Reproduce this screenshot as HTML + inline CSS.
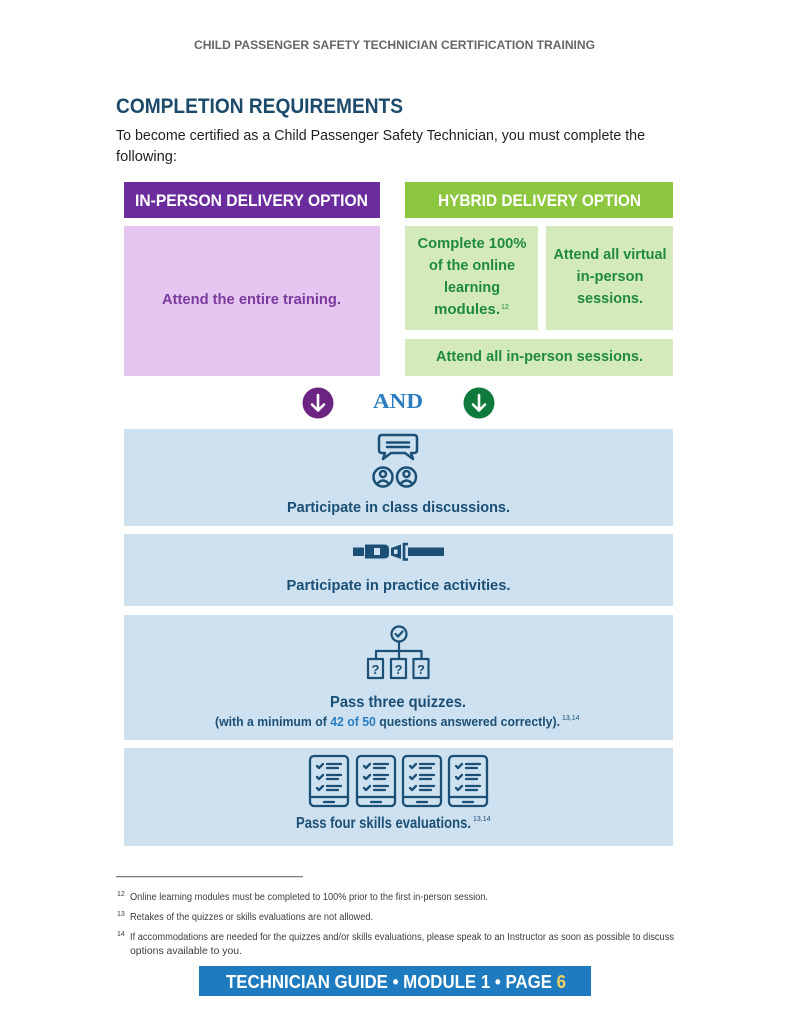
<!DOCTYPE html>
<html>
<head>
<meta charset="utf-8">
<style>
  html,body{margin:0;padding:0;background:#fff;}
  svg{display:block;}
</style>
</head>
<body>
<svg width="791" height="1024" viewBox="0 0 791 1024" xmlns="http://www.w3.org/2000/svg" font-family="'Liberation Sans', Arial, sans-serif">
  <rect width="791" height="1024" fill="#ffffff"/>

  <!-- Running header -->
  <text x="194" y="49" font-size="11.5" font-weight="bold" fill="#666666" textLength="401" lengthAdjust="spacingAndGlyphs">CHILD PASSENGER SAFETY TECHNICIAN CERTIFICATION TRAINING</text>

  <!-- Title -->
  <text x="116" y="113" font-size="21" font-weight="bold" fill="#1b4a6b" textLength="287" lengthAdjust="spacingAndGlyphs">COMPLETION REQUIREMENTS</text>
  <text x="116" y="140" font-size="14.5" fill="#231f20" textLength="529" lengthAdjust="spacingAndGlyphs">To become certified as a Child Passenger Safety Technician, you must complete the</text>
  <text x="116" y="161" font-size="14.5" fill="#231f20" textLength="61" lengthAdjust="spacingAndGlyphs">following:</text>

  <!-- Header boxes -->
  <rect x="124" y="182" width="256" height="36" fill="#6b2d9e"/>
  <text x="135" y="206" font-size="16.5" font-weight="bold" fill="#ffffff" textLength="233" lengthAdjust="spacingAndGlyphs">IN-PERSON DELIVERY OPTION</text>
  <rect x="405" y="182" width="268" height="36" fill="#8dc63f"/>
  <text x="438" y="206" font-size="16.5" font-weight="bold" fill="#ffffff" textLength="203" lengthAdjust="spacingAndGlyphs">HYBRID DELIVERY OPTION</text>

  <!-- In-person content -->
  <rect x="124" y="226" width="256" height="150" fill="#e5c6f0"/>
  <text x="162" y="304" font-size="15" font-weight="bold" fill="#7b3a9d" textLength="179" lengthAdjust="spacingAndGlyphs">Attend the entire training.</text>

  <!-- Hybrid content -->
  <rect x="405" y="226" width="133" height="104" fill="#d4eabd"/>
  <g font-size="14.5" font-weight="bold" fill="#1f8a3f" text-anchor="middle">
    <text x="472" y="248" textLength="109" lengthAdjust="spacingAndGlyphs">Complete 100%</text>
    <text x="472" y="270" textLength="86" lengthAdjust="spacingAndGlyphs">of the online</text>
    <text x="472" y="292" textLength="56" lengthAdjust="spacingAndGlyphs">learning</text>
    <text x="467" y="314" textLength="66" lengthAdjust="spacingAndGlyphs">modules.</text>
  </g>
  <text x="501" y="309" font-size="7" fill="#1f8a3f">12</text>

  <rect x="546" y="226" width="127" height="104" fill="#d4eabd"/>
  <g font-size="14.5" font-weight="bold" fill="#1f8a3f" text-anchor="middle">
    <text x="610" y="259" textLength="113" lengthAdjust="spacingAndGlyphs">Attend all virtual</text>
    <text x="610" y="281" textLength="67" lengthAdjust="spacingAndGlyphs">in-person</text>
    <text x="610" y="303" textLength="66" lengthAdjust="spacingAndGlyphs">sessions.</text>
  </g>

  <rect x="405" y="339" width="268" height="37" fill="#d4eabd"/>
  <text x="539.5" y="361" font-size="14.5" font-weight="bold" fill="#1f8a3f" text-anchor="middle" textLength="207" lengthAdjust="spacingAndGlyphs">Attend all in-person sessions.</text>

  <!-- AND row -->
  <circle cx="318" cy="403" r="15.5" fill="#6c2482"/>
  <path d="M318 395 V410 M312 404.5 L318 410.5 L324 404.5" stroke="#ffffff" stroke-width="2.6" fill="none" stroke-linecap="round" stroke-linejoin="round"/>
  <text x="373" y="408" font-family="'Liberation Serif', serif" font-size="21" font-weight="bold" fill="#2b7dc0" textLength="50" lengthAdjust="spacingAndGlyphs">AND</text>
  <circle cx="479" cy="403" r="15.5" fill="#0f7a3c"/>
  <path d="M479 395 V410 M473 404.5 L479 410.5 L485 404.5" stroke="#ffffff" stroke-width="2.6" fill="none" stroke-linecap="round" stroke-linejoin="round"/>

  <!-- Blue boxes -->
  <rect x="124" y="429" width="549" height="97" fill="#cde1f0"/>
  <rect x="124" y="534" width="549" height="72" fill="#cde1f0"/>
  <rect x="124" y="615" width="549" height="125" fill="#cde1f0"/>
  <rect x="124" y="748" width="549" height="98" fill="#cde1f0"/>

  <!-- Icon 1: discussion -->
  <g stroke="#1b4f75" stroke-width="2.5" fill="none" stroke-linejoin="round" stroke-linecap="round">
    <path d="M382 435 H414 Q417 435 417 438 V450 Q417 453 414 453 H411 L413 459 L405 453 H391 L383 459 L385 453 H382 Q379 453 379 450 V438 Q379 435 382 435 Z"/>
    <path d="M387 442.5 H409 M387 447 H409"/>
    <circle cx="383" cy="477" r="9.5"/>
    <circle cx="383" cy="474" r="3"/>
    <path d="M377 484 Q383 477 389 484"/>
    <circle cx="406.5" cy="477" r="9.5"/>
    <circle cx="406.5" cy="474" r="3"/>
    <path d="M400.5 484 Q406.5 477 412.5 484"/>
  </g>
  <text x="398.5" y="512" font-size="15" font-weight="bold" fill="#1b4f75" text-anchor="middle" textLength="223" lengthAdjust="spacingAndGlyphs">Participate in class discussions.</text>

  <!-- Icon 2: seatbelt -->
  <g fill="#1b4f75">
    <rect x="353" y="547.5" width="11" height="8.5"/>
    <path d="M365 544.5 H384 Q389 544.5 389 549 V554 Q389 558.5 384 558.5 H365 Z"/>
    <path d="M391 548 L401 544.5 V559 L391 555.5 Z"/>
    <rect x="408" y="547.5" width="36" height="8.5"/>
  </g>
  <rect x="374" y="548" width="6" height="7" fill="#cde1f0"/>
  <rect x="394" y="549.5" width="3.5" height="4.5" fill="#cde1f0"/>
  <path d="M408 544 H404 V559.5 H408" stroke="#1b4f75" stroke-width="2.6" fill="none"/>
  <text x="398.5" y="590" font-size="15" font-weight="bold" fill="#1b4f75" text-anchor="middle" textLength="224" lengthAdjust="spacingAndGlyphs">Participate in practice activities.</text>

  <!-- Icon 3: quizzes -->
  <g stroke="#1b4f75" stroke-width="2.2" fill="none" stroke-linejoin="round" stroke-linecap="round">
    <circle cx="399" cy="634" r="7.5"/>
    <path d="M395.5 634 L398 636.5 L402.5 631.5"/>
    <path d="M399 641.5 V651 M376 651 H421.5 M376 651 V659 M399 651 V659 M421.5 651 V659"/>
    <rect x="368" y="659" width="15" height="19"/>
    <rect x="391" y="659" width="15" height="19"/>
    <rect x="413.5" y="659" width="15" height="19"/>
  </g>
  <g font-size="13" font-weight="bold" fill="#1b4f75" text-anchor="middle">
    <text x="375.5" y="674">?</text>
    <text x="398.5" y="674">?</text>
    <text x="421" y="674">?</text>
  </g>
  <text x="398" y="707" font-size="16" font-weight="bold" fill="#1b4f75" text-anchor="middle" textLength="136" lengthAdjust="spacingAndGlyphs">Pass three quizzes.</text>
  <text x="215" y="726" font-size="13" font-weight="bold" fill="#1b4f75" textLength="345" lengthAdjust="spacingAndGlyphs">(with a minimum of <tspan fill="#2b7dc0">42 of 50</tspan> questions answered correctly).</text>
  <text x="562" y="720" font-size="7" fill="#1b4f75">13,14</text>

  <!-- Icon 4: tablets -->
  <g stroke="#1b4f75" stroke-width="2.3" fill="none" stroke-linecap="round" stroke-linejoin="round">
    <g>
      <rect x="310" y="756" width="38" height="50" rx="4"/>
      <path d="M310 797 H348 M324 802 H334"/>
      <path d="M317 766 L319 768 L323 764 M317 777 L319 779 L323 775 M317 788 L319 790 L323 786"/>
      <path d="M327 764 H341 M327 768 H338 M327 775 H341 M327 779 H338 M327 786 H341 M327 790 H338"/>
    </g>
    <g transform="translate(47 0)">
      <rect x="310" y="756" width="38" height="50" rx="4"/>
      <path d="M310 797 H348 M324 802 H334"/>
      <path d="M317 766 L319 768 L323 764 M317 777 L319 779 L323 775 M317 788 L319 790 L323 786"/>
      <path d="M327 764 H341 M327 768 H338 M327 775 H341 M327 779 H338 M327 786 H341 M327 790 H338"/>
    </g>
    <g transform="translate(93 0)">
      <rect x="310" y="756" width="38" height="50" rx="4"/>
      <path d="M310 797 H348 M324 802 H334"/>
      <path d="M317 766 L319 768 L323 764 M317 777 L319 779 L323 775 M317 788 L319 790 L323 786"/>
      <path d="M327 764 H341 M327 768 H338 M327 775 H341 M327 779 H338 M327 786 H341 M327 790 H338"/>
    </g>
    <g transform="translate(139 0)">
      <rect x="310" y="756" width="38" height="50" rx="4"/>
      <path d="M310 797 H348 M324 802 H334"/>
      <path d="M317 766 L319 768 L323 764 M317 777 L319 779 L323 775 M317 788 L319 790 L323 786"/>
      <path d="M327 764 H341 M327 768 H338 M327 775 H341 M327 779 H338 M327 786 H341 M327 790 H338"/>
    </g>
  </g>
  <text x="296" y="828" font-size="16" font-weight="bold" fill="#1b4f75" textLength="175" lengthAdjust="spacingAndGlyphs">Pass four skills evaluations.</text>
  <text x="473" y="821" font-size="7" fill="#1b4f75">13,14</text>

  <!-- Footnotes -->
  <rect x="116" y="876" width="187" height="1.3" fill="#7f7f7f"/>
  <g fill="#3d3d3d">
    <text x="117" y="896" font-size="7">12</text>
    <text x="130" y="900" font-size="10" textLength="358" lengthAdjust="spacingAndGlyphs">Online learning modules must be completed to 100% prior to the first in-person session.</text>
    <text x="117" y="916" font-size="7">13</text>
    <text x="130" y="920" font-size="10" textLength="243" lengthAdjust="spacingAndGlyphs">Retakes of the quizzes or skills evaluations are not allowed.</text>
    <text x="117" y="936" font-size="7">14</text>
    <text x="130" y="940" font-size="10" textLength="544" lengthAdjust="spacingAndGlyphs">If accommodations are needed for the quizzes and/or skills evaluations, please speak to an Instructor as soon as possible to discuss</text>
    <text x="130" y="954" font-size="10" textLength="112" lengthAdjust="spacingAndGlyphs">options available to you.</text>
  </g>

  <!-- Footer bar -->
  <rect x="199" y="966" width="392" height="30" fill="#1f7bbf"/>
  <text x="226" y="988" font-size="18" font-weight="bold" fill="#ffffff" textLength="340" lengthAdjust="spacingAndGlyphs">TECHNICIAN GUIDE • MODULE 1 • PAGE <tspan fill="#f2d35f">6</tspan></text>
</svg>
</body>
</html>
